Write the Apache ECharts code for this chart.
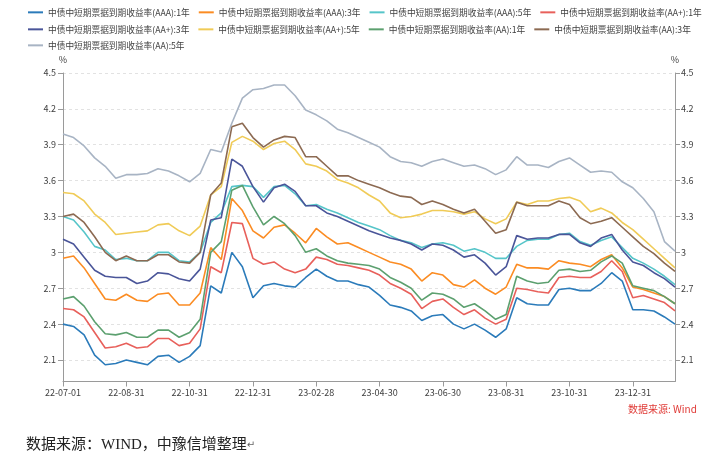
<!DOCTYPE html>
<html>
<head>
<meta charset="utf-8">
<script src="https://cdn.jsdelivr.net/npm/echarts@6/dist/echarts.min.js"></script>
<style>html,body{margin:0;padding:0;background:#fff;}#c{width:718px;height:468px;}</style>
</head>
<body>
<div id="c"></div>
<script>
const dates = ['22-07-01','22-07-11','22-07-21','22-07-31','22-08-10','22-08-20','22-08-31','22-09-10','22-09-20','22-09-30','22-10-10','22-10-20','22-10-31','22-11-10','22-11-20','22-11-30','22-12-10','22-12-20','22-12-31','23-01-10','23-01-20','23-01-30','23-02-08','23-02-18','23-02-28','23-03-10','23-03-20','23-03-31','23-04-10','23-04-20','23-04-30','23-05-10','23-05-20','23-05-31','23-06-10','23-06-20','23-06-30','23-07-10','23-07-20','23-07-31','23-08-10','23-08-20','23-08-31','23-09-10','23-09-20','23-09-30','23-10-10','23-10-20','23-10-31','23-11-10','23-11-20','23-11-30','23-12-10','23-12-20','23-12-31','24-01-10','24-01-20','24-01-30','24-02-09'];

const seriesNames = [
  '中债中短期票据到期收益率(AAA):1年','中债中短期票据到期收益率(AAA):3年','中债中短期票据到期收益率(AAA):5年','中债中短期票据到期收益率(AA+):1年',
  '中债中短期票据到期收益率(AA+):3年','中债中短期票据到期收益率(AA+):5年','中债中短期票据到期收益率(AA):1年','中债中短期票据到期收益率(AA):3年',
  '中债中短期票据到期收益率(AA):5年'
];

const aaa1 = [2.40,2.38,2.31,2.14,2.06,2.07,2.10,2.08,2.06,2.13,2.14,2.08,2.13,2.22,2.72,2.66,3.00,2.88,2.62,2.72,2.74,2.72,2.71,2.79,2.86,2.80,2.76,2.76,2.73,2.71,2.64,2.56,2.54,2.51,2.43,2.47,2.48,2.40,2.36,2.40,2.35,2.29,2.36,2.62,2.57,2.56,2.56,2.69,2.70,2.68,2.68,2.74,2.83,2.76,2.52,2.52,2.51,2.46,2.40];
const aaa3 = [2.95,2.97,2.87,2.74,2.61,2.60,2.65,2.60,2.59,2.65,2.66,2.56,2.56,2.66,3.04,2.94,3.45,3.35,3.18,3.12,3.21,3.23,3.16,3.08,3.20,3.13,3.07,3.08,3.04,3.00,2.96,2.92,2.90,2.86,2.76,2.83,2.81,2.73,2.71,2.77,2.70,2.65,2.71,2.90,2.87,2.87,2.86,2.93,2.91,2.90,2.88,2.94,2.98,2.87,2.71,2.69,2.66,2.63,2.57];
const aaa5 = [3.30,3.27,3.17,3.05,3.02,2.94,2.95,2.93,2.93,3.00,3.00,2.93,2.92,3.00,3.25,3.33,3.55,3.56,3.55,3.46,3.55,3.56,3.49,3.39,3.40,3.36,3.33,3.29,3.25,3.22,3.19,3.14,3.10,3.08,3.04,3.07,3.08,3.06,3.01,3.03,3.00,2.95,2.95,3.05,3.10,3.11,3.11,3.15,3.16,3.09,3.06,3.10,3.13,3.04,2.95,2.91,2.86,2.80,2.73];
const aap1 = [2.53,2.52,2.46,2.33,2.20,2.21,2.24,2.20,2.21,2.28,2.28,2.22,2.24,2.36,2.88,2.83,3.25,3.24,2.95,2.90,2.92,2.86,2.83,2.86,2.96,2.94,2.90,2.89,2.87,2.85,2.81,2.74,2.70,2.65,2.53,2.59,2.61,2.54,2.48,2.52,2.45,2.40,2.44,2.70,2.69,2.67,2.66,2.79,2.80,2.79,2.79,2.84,2.93,2.84,2.62,2.64,2.61,2.58,2.51];
const aap3 = [3.11,3.07,2.96,2.85,2.80,2.79,2.79,2.74,2.76,2.83,2.82,2.78,2.76,2.86,3.27,3.29,3.78,3.72,3.55,3.42,3.54,3.57,3.51,3.39,3.39,3.33,3.30,3.26,3.22,3.18,3.15,3.12,3.10,3.07,3.02,3.07,3.06,3.02,2.96,2.98,2.91,2.81,2.88,3.14,3.11,3.12,3.12,3.15,3.15,3.08,3.05,3.12,3.15,3.02,2.92,2.89,2.83,2.78,2.71];
const aap5 = [3.50,3.49,3.43,3.32,3.25,3.15,3.16,3.17,3.18,3.23,3.24,3.18,3.14,3.22,3.48,3.55,3.92,3.97,3.93,3.86,3.91,3.93,3.86,3.74,3.72,3.68,3.61,3.58,3.54,3.48,3.43,3.33,3.29,3.30,3.32,3.35,3.35,3.34,3.32,3.34,3.28,3.24,3.28,3.42,3.40,3.43,3.43,3.45,3.46,3.43,3.34,3.37,3.33,3.25,3.19,3.11,3.03,2.95,2.87];
const aa1 = [2.61,2.63,2.55,2.42,2.32,2.31,2.33,2.29,2.29,2.35,2.35,2.29,2.33,2.44,3.00,3.09,3.52,3.56,3.38,3.23,3.30,3.24,3.14,3.00,3.03,2.97,2.93,2.91,2.90,2.89,2.86,2.79,2.75,2.70,2.60,2.66,2.65,2.61,2.54,2.57,2.51,2.44,2.48,2.80,2.76,2.74,2.75,2.85,2.86,2.84,2.85,2.92,2.97,2.91,2.72,2.70,2.68,2.63,2.57];
const aa3 = [3.30,3.32,3.25,3.13,3.00,2.93,2.97,2.93,2.93,2.98,2.98,2.92,2.91,3.00,3.48,3.58,4.05,4.08,3.96,3.88,3.94,3.97,3.96,3.80,3.80,3.72,3.64,3.64,3.60,3.57,3.54,3.50,3.47,3.46,3.40,3.43,3.40,3.36,3.33,3.36,3.26,3.16,3.19,3.42,3.39,3.39,3.39,3.43,3.40,3.29,3.24,3.26,3.29,3.21,3.13,3.05,2.99,2.91,2.84];
const aa5 = [3.99,3.96,3.89,3.79,3.72,3.62,3.65,3.65,3.66,3.70,3.68,3.64,3.59,3.66,3.86,3.84,4.08,4.29,4.36,4.37,4.40,4.40,4.31,4.19,4.15,4.10,4.03,4.00,3.96,3.92,3.88,3.80,3.76,3.75,3.72,3.76,3.78,3.75,3.72,3.73,3.70,3.65,3.69,3.80,3.73,3.73,3.71,3.76,3.79,3.73,3.67,3.68,3.67,3.59,3.54,3.45,3.34,3.09,3.01];

const yTicks = [2.1, 2.4, 2.7, 3.0, 3.3, 3.6, 3.9, 4.2, 4.5];
const yMin = 1.92, yMax = 4.5;

const colors = ['#2b7bba','#fb8c23','#56c5c9','#e8605b','#4a5599','#f0cb57','#5ca06f','#8c6a52','#a8b4c4'];
const values = [aaa1, aaa3, aaa5, aap1, aap3, aap5, aa1, aa3, aa5];

const FONT = '"Noto Sans CJK SC", "Noto Sans", sans-serif';

function legendRow(names, top) {
  return {
    top: top, left: 28, width: 690, padding: 0, itemGap: 9, itemWidth: 15, itemHeight: 2,
    icon: 'rect',
    textStyle: { fontSize: 8.7, color: '#404040', fontFamily: FONT },
    data: names
  };
}

const yAxisCommon = {
  type: 'value', min: yMin, max: yMax,
  name: '%', nameLocation: 'end', nameGap: 9,
  nameTextStyle: { fontSize: 9, color: '#404040', fontFamily: FONT },
  axisLine: { show: true, lineStyle: { color: '#9a9a9a', width: 1 } },
  axisTick: { show: true, length: 5, inside: false, customValues: yTicks, lineStyle: { color: '#9a9a9a' } },
  axisLabel: { customValues: yTicks, fontSize: 9, color: '#404040', fontFamily: FONT,
    formatter: v => (Math.round(v * 10) / 10).toString() },
};

const chart = echarts.init(document.getElementById('c'), null, { renderer: 'canvas' });
chart.setOption({
  animation: false,
  color: colors,
  legend: [
    legendRow(seriesNames.slice(0, 4), 8),
    legendRow(seriesNames.slice(4, 8), 25),
    legendRow(seriesNames.slice(8), 41)
  ],
  grid: { left: 63, right: 43, top: 73, bottom: 86.5, containLabel: false },
  xAxis: {
    type: 'category', data: dates, boundaryGap: false,
    axisLine: { lineStyle: { color: '#9a9a9a' } },
    axisTick: { interval: 5, length: 5, lineStyle: { color: '#9a9a9a' } },
    axisLabel: { interval: 5, fontSize: 9, color: '#404040', margin: 7, fontFamily: FONT },
    splitLine: { show: false }
  },
  yAxis: [
    Object.assign({}, yAxisCommon, {
      position: 'left',
      axisLabel: Object.assign({}, yAxisCommon.axisLabel, { margin: 7 }),
      splitLine: { show: true, lineStyle: { color: '#e2e2e2', type: [3, 3], width: 1 } }
    }),
    Object.assign({}, yAxisCommon, {
      position: 'right',
      axisLabel: Object.assign({}, yAxisCommon.axisLabel, { margin: 6 }),
      splitLine: { show: false }
    })
  ],
  series: seriesNames.map((n, i) => ({
    name: n, type: 'line', data: values[i], yAxisIndex: 0,
    showSymbol: false, symbol: 'none',
    lineStyle: { width: 1.6, color: colors[i] },
    itemStyle: { color: colors[i] }
  })),
  graphic: [
    { type: 'text', left: 628, top: 404,
      style: { text: '数据来源: Wind', fill: '#e03a36', fontSize: 10, fontFamily: FONT } },
    { type: 'text', left: 26, top: 438,
      style: { text: '数据来源：WIND，中豫信增整理{m|↵}', fill: '#222', fontSize: 15,
        fontFamily: '"Liberation Serif", "Noto Sans CJK SC", serif',
        rich: { m: { fontSize: 10, fill: '#666', fontFamily: 'DejaVu Sans' } } } }
  ]
});
</script>
</body>
</html>
